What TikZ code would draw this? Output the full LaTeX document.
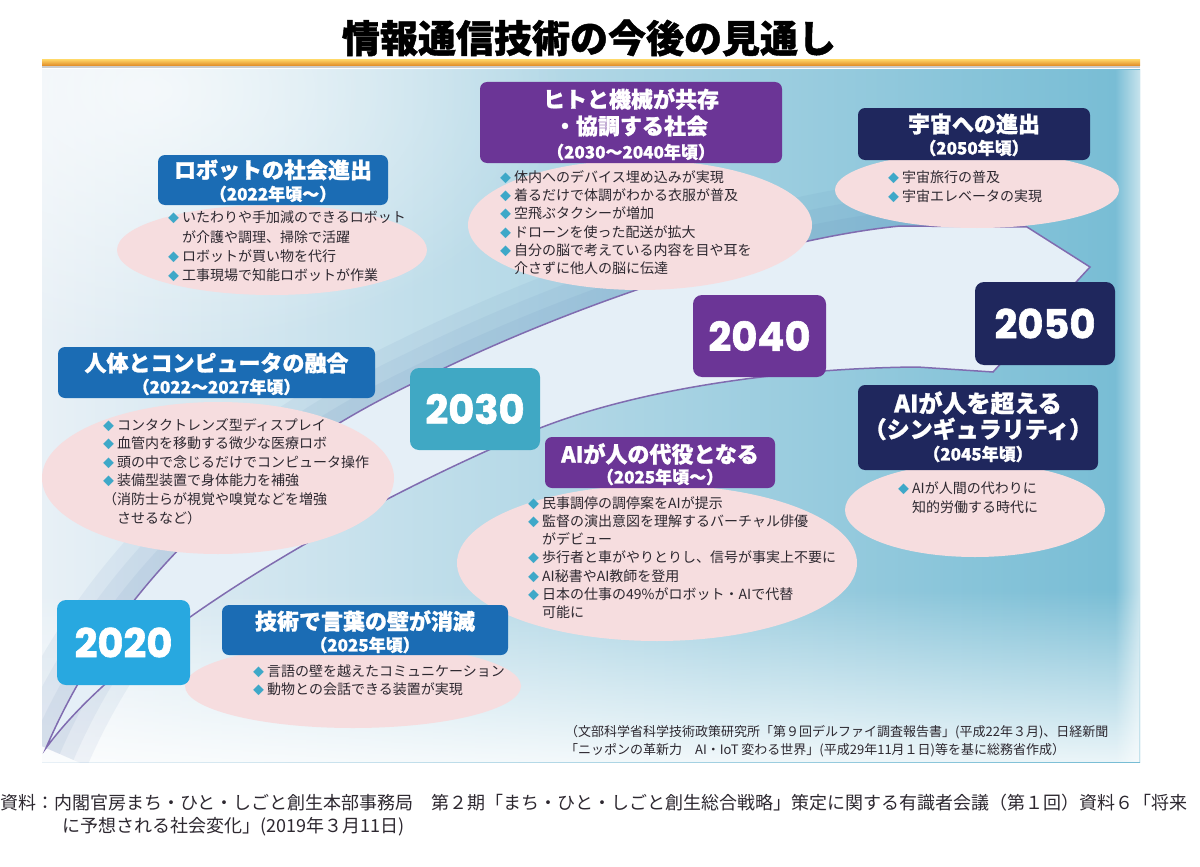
\documentclass[tikz,border=0pt]{standalone}
\usepackage{fontspec}
\newfontfamily\jp{Noto Sans CJK JP}
\newfontfamily\jph{Noto Sans CJK JP}[BoldFeatures={FakeBold=1.2}]
\newfontfamily\yr{Poppins}[BoldFeatures={FakeBold=1.5}]
\usetikzlibrary{fadings}
\definecolor{cblue}{RGB}{27,108,180}
\definecolor{cpurple}{RGB}{107,53,150}
\definecolor{cnavy}{RGB}{31,39,93}
\definecolor{c2020}{RGB}{40,168,224}
\definecolor{c2030}{RGB}{64,168,196}
\definecolor{cpink}{RGB}{246,221,223}
\definecolor{cbul}{RGB}{62,168,200}
\definecolor{ctxt}{RGB}{45,40,48}
\definecolor{bgL}{RGB}{232,240,246}
\definecolor{bgM}{RGB}{196,220,234}
\definecolor{bgR}{RGB}{118,188,212}
\definecolor{arrowfill}{RGB}{229,239,247}
\definecolor{arrowedge}{RGB}{128,108,176}
\definecolor{cshadow}{RGB}{80,120,175}
\definecolor{orangeA}{RGB}{252,205,95}
\definecolor{orangeB}{RGB}{222,135,35}
\tikzfading[name=softcirc, inner color=transparent!0, outer color=transparent!100]
\newcommand\bl{\makebox[14pt][l]{\textcolor{cbul}{\fontsize{11}{11}\selectfont ◆}}}
\newcommand\ind{\hspace*{14pt}}
\tikzset{
  hbox/.style={rounded corners=7pt, inner sep=0pt},
  htxt/.style={text=white, font=\jph\bfseries\fontsize{22}{24}\selectfont, inner sep=0pt},
  hsub/.style={text=white, font=\jph\bfseries\fontsize{17}{20}\selectfont, inner sep=0pt},
  ybox/.style={rounded corners=9pt, inner sep=0pt, text=white, font=\yr\bfseries\fontsize{40}{40}\selectfont},
  body/.style={anchor=north west, align=left, inner sep=0pt, text=ctxt},
  blob/.style={fill=cpink},
  aedge/.style={arrowedge, line width=1.5},
}
\begin{document}
\begin{tikzpicture}[x=1pt,y=-1pt]
\path[use as bounding box] (0,0) rectangle (1200,867);
\fill[white] (0,0) rectangle (1200,867);
% title
\node[font=\jph\bfseries\fontsize{38}{40}\selectfont, inner sep=0pt] (title) at (589,38) {情報通信技術の今後の見通し};
\shade[top color=orangeA, bottom color=orangeB] (42,60) rectangle (1140,66);
\fill[black!20] (42,66) rectangle (1140,68);
% panel background
\begin{scope}
\clip (42,70) rectangle (1140,762);
\shade[left color=bgL, middle color=bgM, right color=bgR] (42,70) rectangle (1140,762);
\fill[white, path fading=north, opacity=0.85] (42,590) rectangle (1140,762);
\fill[white, path fading=softcirc, opacity=0.7] (150,90) ellipse [x radius=420, y radius=260];
\fill[white, path fading=west, opacity=0.6] (1115,70) rectangle (1140,762);
% arrow shadow
\foreach \w/\o in {90/0.07,60/0.07,30/0.08}{
  \draw[cshadow, opacity=\o, line width=\w] (46,748) .. controls (110,600) and (230,470) .. (420,380) .. controls (560,310) and (760,240) .. (900,226) -- (1027,227);
}
\end{scope}
% arrow
\draw[aedge, fill=arrowfill] (46,748) .. controls (110,600) and (230,470) .. (420,380) .. controls (560,310) and (760,240) .. (900,226) -- (1027,227) -- (1090,267) -- (993,372) -- (917,367) .. controls (800,368) and (650,385) .. (540,428) .. controls (400,485) and (140,620) .. (46,748) -- cycle;
% ellipses
\fill[blob] (272,250) ellipse [x radius=155, y radius=45];
\fill[blob] (640,225) ellipse [x radius=172, y radius=65];
\fill[blob] (977,190) ellipse [x radius=142, y radius=38];
\fill[blob] (218,478) ellipse [x radius=176, y radius=76];
\fill[blob] (657,563) ellipse [x radius=200, y radius=78];
\fill[blob] (975,510) ellipse [x radius=130, y radius=47];
\fill[blob] (353,686) ellipse [x radius=168, y radius=42];
% header boxes
\node[hbox, fill=cblue, minimum width=230, minimum height=50] (robotH) at (273,180) {};
\node[htxt] (robotT1) at (273,170) {ロボットの社会進出};
\node[hsub] (robotT2) at (273,194) {（2022年頃〜）};

\node[hbox, fill=cpurple, minimum width=302, minimum height=81] (humanH) at (631,122.5) {};
\node[htxt] (humanT1) at (631,99) {ヒトと機械が共存};
\node[htxt] (humanT2) at (631,126) {・協調する社会};
\node[hsub] (humanT3) at (631,152) {（2030〜2040年頃）};

\node[hbox, fill=cnavy, minimum width=232, minimum height=52] (spaceH) at (974,134) {};
\node[htxt] (spaceT1) at (974,124) {宇宙への進出};
\node[hsub] (spaceT2) at (974,148) {（2050年頃）};

\node[hbox, fill=cblue, minimum width=317, minimum height=51] (bodyH) at (216.5,372.5) {};
\node[htxt] (bodyT1) at (216.5,363) {人体とコンピュータの融合};
\node[hsub] (bodyT2) at (216.5,387) {（2022〜2027年頃）};

\node[hbox, fill=cpurple, minimum width=230, minimum height=51] (aiH) at (660,462.5) {};
\node[htxt] (aiT1) at (660,454) {AIが人の代役となる};
\node[hsub] (aiT2) at (660,477) {（2025年頃〜）};

\node[hbox, fill=cnavy, minimum width=240, minimum height=85] (singH) at (978,427.5) {};
\node[htxt, font=\jph\bfseries\fontsize{24}{26}\selectfont] (singT1) at (978,403) {AIが人を超える};
\node[htxt, font=\jph\bfseries\fontsize{23}{26}\selectfont] (singT2) at (978,429) {（シンギュラリティ）};
\node[hsub] (singT3) at (978,454) {（2045年頃）};

\node[hbox, fill=cblue, minimum width=286, minimum height=50] (langH) at (365,630) {};
\node[htxt] (langT1) at (365,621) {技術で言葉の壁が消滅};
\node[hsub] (langT2) at (365,645) {（2025年頃）};
% year boxes
\node[ybox, fill=c2020, minimum width=133, minimum height=85] (y2020) at (123.5,642.5) {2020};
\node[ybox, fill=c2030, minimum width=130, minimum height=82] (y2030) at (475,409) {2030};
\node[ybox, fill=cpurple, minimum width=133, minimum height=82] (y2040) at (759.5,336) {2040};
\node[ybox, fill=cnavy, minimum width=140, minimum height=83] (y2050) at (1045,323.5) {2050};
% body texts
\node[body, font=\jp\fontsize{14}{19.3}\selectfont] (robotB) at (168,211) {\bl いたわりや手加減のできるロボット\\\ind が介護や調理、掃除で活躍\\\bl ロボットが買い物を代行\\\bl 工事現場で知能ロボットが作業};
\node[body, font=\jp\fontsize{14}{18.3}\selectfont] (humanB) at (500,170) {\bl 体内へのデバイス埋め込みが実現\\\bl 着るだけで体調がわかる衣服が普及\\\bl 空飛ぶタクシーが増加\\\bl ドローンを使った配送が拡大\\\bl 自分の脳で考えている内容を目や耳を\\\ind 介さずに他人の脳に伝達};
\node[body, font=\jp\fontsize{14}{19}\selectfont] (spaceB) at (888,171) {\bl 宇宙旅行の普及\\\bl 宇宙エレベータの実現};
\node[body, font=\jp\fontsize{14}{18.6}\selectfont] (bodyB) at (103,418) {\bl コンタクトレンズ型ディスプレイ\\\bl 血管内を移動する微少な医療ロボ\\\bl 頭の中で念じるだけでコンピュータ操作\\\bl 装備型装置で身体能力を補強\\（消防士らが視覚や嗅覚などを増強\\\ind させるなど）};
\node[body, font=\jp\fontsize{14}{18.3}\selectfont] (aiB) at (528,496) {\bl 民事調停の調停案をAIが提示\\\bl 監督の演出意図を理解するバーチャル俳優\\\ind がデビュー\\\bl 歩行者と車がやりとりし、信号が事実上不要に\\\bl AI秘書やAI教師を登用\\\bl 日本の仕事の49\%がロボット・AIで代替\\\ind 可能に};
\node[body, font=\jp\fontsize{14}{19}\selectfont] (singB) at (898,481) {\bl AIが人間の代わりに\\\ind 知的労働する時代に};
\node[body, font=\jp\fontsize{14}{18}\selectfont] (langB) at (253,665) {\bl 言語の壁を越えたコミュニケーション\\\bl 動物との会話できる装置が実現};
% sources
\node[body, font=\jp\fontsize{13}{18}\selectfont] (src) at (565,725) {（文部科学省科学技術政策研究所「第９回デルファイ調査報告書」(平成22年３月)、日経新聞\\「ニッポンの革新力　AI・IoT 変わる世界」(平成29年11月１日)等を基に総務省作成）};
\node[body, font=\jp\fontsize{18}{23}\selectfont] (note) at (0,794) {資料：内閣官房まち・ひと・しごと創生本部事務局　第２期「まち・ひと・しごと創生総合戦略」策定に関する有識者会議（第１回）資料６「将来\\\hspace*{62pt}に予想される社会変化」(2019年３月11日)};
\end{tikzpicture}
\end{document}
